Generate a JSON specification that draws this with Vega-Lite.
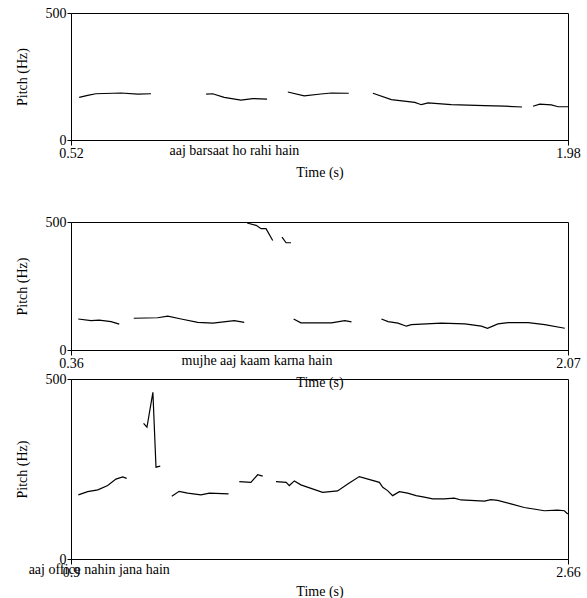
{
  "$schema": "https://vega.github.io/schema/vega-lite/v6.json",
  "padding": {"left": 14, "top": 5, "right": 0, "bottom": 0},
  "background": "white",
  "config": {
    "view": {"stroke": "black", "strokeWidth": 1},
    "axis": {"grid": false, "domainColor": "black", "tickColor": "black", "labelFont": "Liberation Serif", "labelFontSize": 14, "labelColor": "black", "titleFont": "Liberation Serif", "titleFontSize": 14, "titleFontWeight": "normal", "titleColor": "black", "domainWidth": 1, "tickWidth": 1},
    "axisY": {"tickSize": 4, "labelPadding": 1, "titlePadding": 16, "labelFlush": false},
    "axisX": {"tickSize": 5, "labelPadding": 1, "titlePadding": 5, "labelFlush": false},
    "text": {"font": "Liberation Serif", "fontSize": 14, "color": "black"}
  },
  "datasets": {
    "pitch1": [
      {"seg": 1, "t": 0.544, "f0": 168}, {"seg": 1, "t": 0.569, "f0": 176}, {"seg": 1, "t": 0.593, "f0": 182}, {"seg": 1, "t": 0.667, "f0": 185}, {"seg": 1, "t": 0.716, "f0": 181}, {"seg": 1, "t": 0.755, "f0": 182},
      {"seg": 2, "t": 0.917, "f0": 181}, {"seg": 2, "t": 0.936, "f0": 182}, {"seg": 2, "t": 0.970, "f0": 168}, {"seg": 2, "t": 1.019, "f0": 157}, {"seg": 2, "t": 1.054, "f0": 163}, {"seg": 2, "t": 1.096, "f0": 161},
      {"seg": 3, "t": 1.157, "f0": 189}, {"seg": 3, "t": 1.205, "f0": 174}, {"seg": 3, "t": 1.254, "f0": 181}, {"seg": 3, "t": 1.285, "f0": 185}, {"seg": 3, "t": 1.336, "f0": 184},
      {"seg": 4, "t": 1.407, "f0": 184}, {"seg": 4, "t": 1.461, "f0": 159}, {"seg": 4, "t": 1.530, "f0": 148}, {"seg": 4, "t": 1.549, "f0": 139}, {"seg": 4, "t": 1.569, "f0": 146}, {"seg": 4, "t": 1.637, "f0": 139}, {"seg": 4, "t": 1.735, "f0": 135}, {"seg": 4, "t": 1.794, "f0": 133}, {"seg": 4, "t": 1.845, "f0": 130},
      {"seg": 5, "t": 1.877, "f0": 133}, {"seg": 5, "t": 1.897, "f0": 141}, {"seg": 5, "t": 1.931, "f0": 138}, {"seg": 5, "t": 1.951, "f0": 131}, {"seg": 5, "t": 1.980, "f0": 131}
    ],
    "pitch2": [
      {"seg": 1, "t": 0.385, "f0": 121}, {"seg": 1, "t": 0.429, "f0": 115}, {"seg": 1, "t": 0.457, "f0": 117}, {"seg": 1, "t": 0.498, "f0": 111}, {"seg": 1, "t": 0.526, "f0": 101},
      {"seg": 2, "t": 0.576, "f0": 124}, {"seg": 2, "t": 0.658, "f0": 126}, {"seg": 2, "t": 0.693, "f0": 132}, {"seg": 2, "t": 0.739, "f0": 121}, {"seg": 2, "t": 0.796, "f0": 108}, {"seg": 2, "t": 0.848, "f0": 105}, {"seg": 2, "t": 0.922, "f0": 115}, {"seg": 2, "t": 0.956, "f0": 108},
      {"seg": 3, "t": 0.966, "f0": 496}, {"seg": 3, "t": 0.997, "f0": 487}, {"seg": 3, "t": 1.014, "f0": 474}, {"seg": 3, "t": 1.031, "f0": 474}, {"seg": 3, "t": 1.054, "f0": 428},
      {"seg": 4, "t": 1.086, "f0": 441}, {"seg": 4, "t": 1.100, "f0": 419}, {"seg": 4, "t": 1.117, "f0": 419},
      {"seg": 5, "t": 1.126, "f0": 121}, {"seg": 5, "t": 1.151, "f0": 106}, {"seg": 5, "t": 1.220, "f0": 106}, {"seg": 5, "t": 1.256, "f0": 106}, {"seg": 5, "t": 1.302, "f0": 115}, {"seg": 5, "t": 1.325, "f0": 110},
      {"seg": 6, "t": 1.428, "f0": 121}, {"seg": 6, "t": 1.451, "f0": 111}, {"seg": 6, "t": 1.485, "f0": 105}, {"seg": 6, "t": 1.514, "f0": 93}, {"seg": 6, "t": 1.531, "f0": 99}, {"seg": 6, "t": 1.634, "f0": 105}, {"seg": 6, "t": 1.715, "f0": 102}, {"seg": 6, "t": 1.772, "f0": 93}, {"seg": 6, "t": 1.793, "f0": 85}, {"seg": 6, "t": 1.829, "f0": 102}, {"seg": 6, "t": 1.864, "f0": 107}, {"seg": 6, "t": 1.933, "f0": 107}, {"seg": 6, "t": 1.990, "f0": 99}, {"seg": 6, "t": 2.059, "f0": 85}
    ],
    "pitch3": [
      {"seg": 1, "t": 0.926, "f0": 178}, {"seg": 1, "t": 0.959, "f0": 187}, {"seg": 1, "t": 0.995, "f0": 192}, {"seg": 1, "t": 1.030, "f0": 204}, {"seg": 1, "t": 1.059, "f0": 222}, {"seg": 1, "t": 1.083, "f0": 228}, {"seg": 1, "t": 1.097, "f0": 224},
      {"seg": 2, "t": 1.157, "f0": 377}, {"seg": 2, "t": 1.169, "f0": 366}, {"seg": 2, "t": 1.190, "f0": 463}, {"seg": 2, "t": 1.201, "f0": 255}, {"seg": 2, "t": 1.216, "f0": 258},
      {"seg": 3, "t": 1.257, "f0": 174}, {"seg": 3, "t": 1.283, "f0": 188}, {"seg": 3, "t": 1.313, "f0": 183}, {"seg": 3, "t": 1.360, "f0": 178}, {"seg": 3, "t": 1.390, "f0": 183}, {"seg": 3, "t": 1.458, "f0": 181},
      {"seg": 4, "t": 1.496, "f0": 215}, {"seg": 4, "t": 1.537, "f0": 213}, {"seg": 4, "t": 1.561, "f0": 234}, {"seg": 4, "t": 1.579, "f0": 230},
      {"seg": 5, "t": 1.626, "f0": 215}, {"seg": 5, "t": 1.662, "f0": 213}, {"seg": 5, "t": 1.673, "f0": 204}, {"seg": 5, "t": 1.691, "f0": 217}, {"seg": 5, "t": 1.714, "f0": 206}, {"seg": 5, "t": 1.791, "f0": 185}, {"seg": 5, "t": 1.844, "f0": 189}, {"seg": 5, "t": 1.880, "f0": 208}, {"seg": 5, "t": 1.921, "f0": 229}, {"seg": 5, "t": 1.992, "f0": 213}, {"seg": 5, "t": 2.004, "f0": 199}, {"seg": 5, "t": 2.021, "f0": 190}, {"seg": 5, "t": 2.039, "f0": 176}, {"seg": 5, "t": 2.063, "f0": 187}, {"seg": 5, "t": 2.092, "f0": 183}, {"seg": 5, "t": 2.122, "f0": 176}, {"seg": 5, "t": 2.151, "f0": 172}, {"seg": 5, "t": 2.181, "f0": 167}, {"seg": 5, "t": 2.222, "f0": 167}, {"seg": 5, "t": 2.257, "f0": 169}, {"seg": 5, "t": 2.281, "f0": 164}, {"seg": 5, "t": 2.364, "f0": 161}, {"seg": 5, "t": 2.387, "f0": 165}, {"seg": 5, "t": 2.411, "f0": 163}, {"seg": 5, "t": 2.458, "f0": 153}, {"seg": 5, "t": 2.505, "f0": 143}, {"seg": 5, "t": 2.576, "f0": 134}, {"seg": 5, "t": 2.623, "f0": 136}, {"seg": 5, "t": 2.647, "f0": 134}, {"seg": 5, "t": 2.659, "f0": 125}
    ],
    "label1": [{"t": 1.0, "f0": 0, "label": "aaj barsaat ho rahi hain"}],
    "label2": [{"t": 1.0, "f0": 0, "label": "mujhe aaj kaam karna hain"}],
    "label3": [{"t": 1.0, "f0": 0, "label": "aaj office nahin jana hain"}]
  },
  "spacing": 82,
  "bounds": "flush",
  "vconcat": [
    {
      "width": 497, "height": 127,
      "layer": [
        {
          "data": {"name": "pitch1"},
          "mark": {"type": "line", "color": "black", "strokeWidth": 1.2},
          "encoding": {
            "x": {"field": "t", "type": "quantitative", "scale": {"domain": [0.52, 1.98], "nice": false, "zero": false}, "axis": {"values": [0.52, 1.98], "format": ".3~g", "title": "Time (s)"}},
            "y": {"field": "f0", "type": "quantitative", "scale": {"domain": [0, 500], "nice": false}, "axis": {"values": [0, 500], "title": "Pitch (Hz)"}},
            "detail": {"field": "seg", "type": "nominal"}
          }
        },
        {
          "data": {"name": "label1"},
          "mark": {"type": "text", "baseline": "top", "align": "center", "dy": 4},
          "encoding": {
            "x": {"field": "t", "type": "quantitative"},
            "y": {"field": "f0", "type": "quantitative"},
            "text": {"field": "label"}
          }
        }
      ]
    },
    {
      "spacing": 29,
      "bounds": "flush",
      "vconcat": [
        {
          "width": 497, "height": 128,
          "layer": [
            {
              "data": {"name": "pitch2"},
              "mark": {"type": "line", "color": "black", "strokeWidth": 1.2},
              "encoding": {
                "x": {"field": "t", "type": "quantitative", "scale": {"domain": [0.36, 2.07], "nice": false, "zero": false}, "axis": {"values": [0.36, 2.07], "format": ".3~g", "title": "Time (s)"}},
                "y": {"field": "f0", "type": "quantitative", "scale": {"domain": [0, 500], "nice": false}, "axis": {"values": [0, 500], "title": "Pitch (Hz)"}},
                "detail": {"field": "seg", "type": "nominal"}
              }
            },
            {
              "data": {"name": "label2"},
              "mark": {"type": "text", "baseline": "top", "align": "center", "dy": 4},
              "encoding": {
                "x": {"field": "t", "type": "quantitative"},
                "y": {"field": "f0", "type": "quantitative"},
                "text": {"field": "label"}
              }
            }
          ]
        },
        {
          "width": 497, "height": 180,
          "layer": [
            {
              "data": {"name": "pitch3"},
              "mark": {"type": "line", "color": "black", "strokeWidth": 1.2},
              "encoding": {
                "x": {"field": "t", "type": "quantitative", "scale": {"domain": [0.9, 2.66], "nice": false, "zero": false}, "axis": {"values": [0.9, 2.66], "format": ".3~g", "title": "Time (s)"}},
                "y": {"field": "f0", "type": "quantitative", "scale": {"domain": [0, 500], "nice": false}, "axis": {"values": [0, 500], "title": "Pitch (Hz)"}},
                "detail": {"field": "seg", "type": "nominal"}
              }
            },
            {
              "data": {"name": "label3"},
              "mark": {"type": "text", "baseline": "top", "align": "center", "dy": 4},
              "encoding": {
                "x": {"field": "t", "type": "quantitative"},
                "y": {"field": "f0", "type": "quantitative"},
                "text": {"field": "label"}
              }
            }
          ]
        }
      ]
    }
  ]
}
